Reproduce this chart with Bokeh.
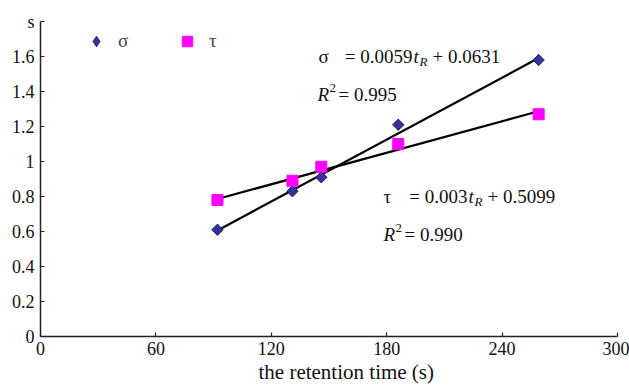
import math
from bokeh.plotting import figure
from bokeh.models import Range1d, FixedTicker, Legend, LegendItem, ColumnDataSource, Title
from bokeh.core.properties import value
from bokeh.embed import file_html
from bokeh.resources import INLINE

# ---- data ----
retention_time = [92, 131, 146, 186, 259]
sigma_values = [0.61, 0.83, 0.91, 1.21, 1.58]
tau_values = [0.78, 0.89, 0.97, 1.10, 1.27]
sigma_fit = (0.0059, 0.0631)   # slope, intercept
tau_fit = (0.003, 0.5099)
x_ticks = [0, 60, 120, 180, 240, 300]
y_ticks = [0, 0.2, 0.4, 0.6, 0.8, 1.0, 1.2, 1.4, 1.6, 1.8]
y_tick_labels = {0: "0", 0.2: "0.2", 0.4: "0.4", 0.6: "0.6", 0.8: "0.8",
                 1.0: "1", 1.2: "1.2", 1.4: "1.4", 1.6: "1.6", 1.8: "s"}
x_title = "the retention time (s)"

FONT = "'Liberation Serif', 'Times New Roman', serif"
X0, X1, Y0, Y1 = 0, 300, 0, 1.8

W, H = 629, 391
LEFT, RIGHT, TOP, BOTTOM = 40, 12, 21, 55

p = figure(width=W, height=H, output_backend="svg", toolbar_location=None,
           x_range=Range1d(X0, X1), y_range=Range1d(Y0, Y1),
           min_border_left=LEFT, min_border_right=RIGHT,
           min_border_top=TOP, min_border_bottom=BOTTOM)
p.outline_line_color = None
p.grid.visible = False
p.background_fill_color = "white"
p.border_fill_color = "white"

for ax in (p.xaxis[0], p.yaxis[0]):
    ax.axis_line_color = "#222222"
    ax.axis_line_width = 1.5
    ax.major_tick_line_color = "#222222"
    ax.major_tick_line_width = 1.2
    ax.major_tick_in = 4
    ax.major_tick_out = 0
    ax.minor_tick_line_color = None
    ax.major_label_text_font = FONT
    ax.major_label_text_font_size = "18px"
    ax.major_label_text_color = "#111111"

p.xaxis.ticker = FixedTicker(ticks=x_ticks)
p.yaxis.ticker = FixedTicker(ticks=y_ticks)
p.yaxis.major_label_overrides = {k: v for k, v in y_tick_labels.items()}
p.xaxis.major_label_standoff = 5
p.yaxis.major_label_standoff = 6

# x-axis title
p.add_layout(Title(text=x_title, align="left", offset=218, standoff=1,
                   text_font=FONT, text_font_size="21px", text_font_style="normal",
                   text_color="#111111"), "below")

# regression lines
tmin, tmax = min(retention_time), max(retention_time)
p.line([tmin, tmax], [sigma_fit[0] * tmin + sigma_fit[1], sigma_fit[0] * tmax + sigma_fit[1]],
       line_color="black", line_width=2.2)
p.line([tmin, tmax], [tau_fit[0] * tmin + tau_fit[1], tau_fit[0] * tmax + tau_fit[1]],
       line_color="black", line_width=2.2)

SIGMA_FILL, SIGMA_LINE = "#333399", "#1f1f6b"
TAU_FILL = "#ff00ff"

src = ColumnDataSource(dict(t=retention_time, s=sigma_values, u=tau_values))
r_sigma = p.scatter("t", "s", source=src, marker="square", angle=math.pi / 4, size=8,
                    fill_color=SIGMA_FILL, line_color=SIGMA_LINE, line_width=1)
r_tau = p.scatter("t", "u", source=src, marker="square", size=11,
                  fill_color=TAU_FILL, line_color=TAU_FILL, line_width=1)
# legend key for the diamond symbol (legend glyphs are drawn unrotated); NaN -> nothing on the plot
r_sigma_key = p.scatter(x=[math.nan], y=[math.nan], marker="diamond", size=10,
                        fill_color=SIGMA_FILL, line_color=SIGMA_LINE, line_width=1)

legend = Legend(items=[LegendItem(label="σ", renderers=[r_sigma_key]),
                       LegendItem(label="τ", renderers=[r_tau])],
                orientation="horizontal", location=(43, 282),
                label_text_font=FONT, label_text_font_size="19px",
                glyph_width=26, glyph_height=26, label_standoff=9, spacing=36,
                padding=0, margin=0, border_line_alpha=0, background_fill_alpha=0)
p.add_layout(legend)

# page-pixel helpers for the annotation texts
FL, FR = LEFT, W - RIGHT
FT, FB = TOP, H - BOTTOM


def dx(px):
    return X0 + (px - FL) * (X1 - X0) / (FR - FL)


def dy(py):
    return Y0 + (FB - py) * (Y1 - Y0) / (FB - FT)


def put(text, px, py, size="19px", style="normal", align="left"):
    p.text(x=[dx(px)], y=[dy(py)], text=[text], text_font=value(FONT),
           text_font_size=value(size), text_font_style=value(style),
           text_align=value(align), text_baseline=value("alphabetic"),
           text_color="#111111")


# sigma equation
put("σ", 318, 56)
put("= 0.0059", 412, 56, align="right")
put("t", 413, 56, style="italic")
put("R", 419, 61, size="13px", style="italic")
put("+ 0.0631", 432, 56)
put("R", 317, 94, style="italic")
put("2", 329, 87, size="13px")
put("= 0.995", 338, 94)

# tau equation
put("τ", 383, 196)
put("= 0.003", 467, 196, align="right")
put("t", 468, 196, style="italic")
put("R", 474, 201, size="13px", style="italic")
put("+ 0.5099", 487, 196)
put("R", 383, 234, style="italic")
put("2", 395, 227, size="13px")
put("= 0.990", 404, 234)

open("out.html", "w").write(file_html(p, INLINE))
